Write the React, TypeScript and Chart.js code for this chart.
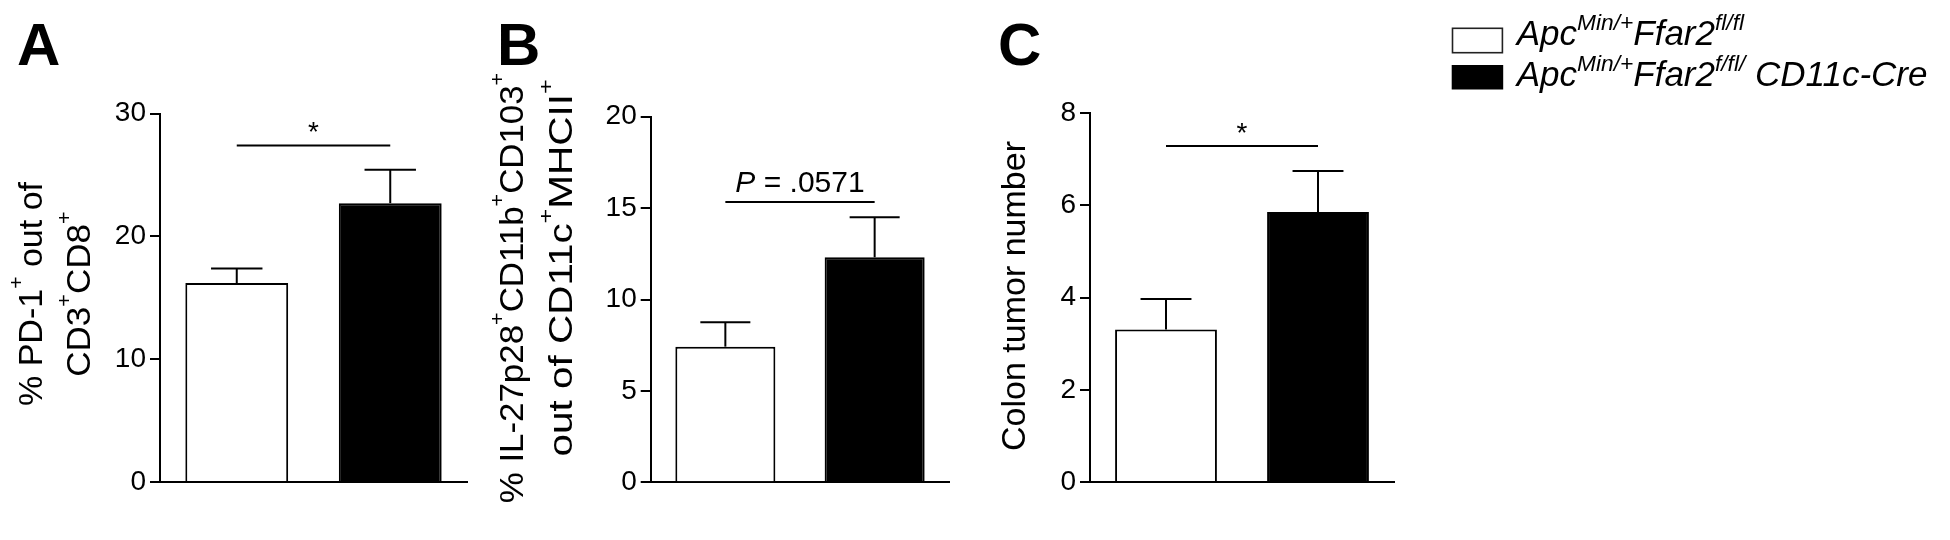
import React, { useEffect, useRef } from "react";
import { Chart, registerables } from "chart.js";

Chart.register(...registerables);

// ---------------- DATA ----------------
const groups = ["ApcMin/+ Ffar2fl/fl", "ApcMin/+ Ffar2f/fl/ CD11c-Cre"];

const panelAMeans = [16.2, 22.7];
const panelASem = [1.18, 2.72];
const panelATicks = [0, 10, 20, 30];
const panelASig = { y: 27.4, label: "*" };

const panelBMeans = [7.42, 12.31];
const panelBSem = [1.33, 2.19];
const panelBTicks = [0, 5, 10, 15, 20];
const panelBSig = { y: 15.33, label: "P = .0571" };

const panelCMeans = [3.31, 5.86];
const panelCSem = [0.66, 0.89];
const panelCTicks = [0, 2, 4, 6, 8];
const panelCSig = { y: 7.29, label: "*" };

const barColors = ["#ffffff", "#000000"];

// ---------------- STYLE / TEXT HELPERS ----------------
const FAMILY = "'Liberation Sans', Arial, Helvetica, sans-serif";

type Run = { t: string; sup?: boolean; it?: boolean };

function fontStr(size: number, italic = false, weight = "normal") {
  return `${italic ? "italic" : "normal"} ${weight} ${size}px ${FAMILY}`;
}

function drawRich(
  ctx: CanvasRenderingContext2D,
  runs: Run[],
  x: number,
  y: number,
  size: number,
  opts: {
    align?: "left" | "center";
    rotate?: boolean;
    stretch?: number;
    supScale?: number;
    supRise?: number;
    italic?: boolean;
    weight?: string;
  } = {}
) {
  const align = opts.align ?? "left";
  const stretch = opts.stretch ?? 1;
  const supScale = opts.supScale ?? 0.62;
  const supRise = opts.supRise ?? 0.5;
  const weight = opts.weight ?? "normal";
  const widths: number[] = [];
  let total = 0;
  runs.forEach((r) => {
    const s = r.sup ? size * supScale : size;
    ctx.font = fontStr(s, r.it ?? opts.italic ?? false, weight);
    const w = ctx.measureText(r.t).width;
    widths.push(w);
    total += w;
  });
  ctx.save();
  ctx.translate(x, y);
  if (opts.rotate) ctx.rotate(-Math.PI / 2);
  ctx.scale(stretch, 1);
  ctx.fillStyle = "#000";
  ctx.textBaseline = "alphabetic";
  ctx.textAlign = "left";
  let cx = align === "center" ? -total / 2 : 0;
  runs.forEach((r, i) => {
    const s = r.sup ? size * supScale : size;
    ctx.font = fontStr(s, r.it ?? opts.italic ?? false, weight);
    ctx.fillText(r.t, cx, r.sup ? -size * supRise : 0);
    cx += widths[i];
  });
  ctx.restore();
}

function line(ctx: CanvasRenderingContext2D, x1: number, y1: number, x2: number, y2: number, w = 2) {
  ctx.save();
  ctx.strokeStyle = "#000";
  ctx.lineWidth = w;
  ctx.beginPath();
  ctx.moveTo(x1, y1);
  ctx.lineTo(x2, y2);
  ctx.stroke();
  ctx.restore();
}

type TitleLine = { runs: Run[]; offset: number; centerY: number; stretch: number };

type PanelSpec = {
  id: string;
  letter: string;
  means: number[];
  sem: number[];
  ticks: number[];
  sig: { y: number; label: string };
  canvasLeft: number;
  canvasWidth: number;
  padding: { left: number; right: number; top: number; bottom: number };
  letterPos: { x: number; y: number };
  titleLines: TitleLine[];
  titleSize: number;
  sigGap: number;
  legend?: boolean;
};

const panels: PanelSpec[] = [
  {
    id: "A",
    letter: "A",
    means: panelAMeans,
    sem: panelASem,
    ticks: panelATicks,
    sig: panelASig,
    canvasLeft: 0,
    canvasWidth: 480,
    padding: { left: 100, right: 13, top: 113.5, bottom: 58 },
    letterPos: { x: 17, y: 65 },
    titleLines: [
      {
        runs: [{ t: "% PD-1" }, { t: "+", sup: true }, { t: " out of" }],
        offset: -118,
        centerY: 294,
        stretch: 1,
      },
      {
        runs: [{ t: "CD3" }, { t: "+", sup: true }, { t: "CD8" }, { t: "+", sup: true }],
        offset: -70,
        centerY: 294,
        stretch: 1.03,
      },
    ],
    titleSize: 34,
    sigGap: 4,
  },
  {
    id: "B",
    letter: "B",
    means: panelBMeans,
    sem: panelBSem,
    ticks: panelBTicks,
    sig: panelBSig,
    canvasLeft: 480,
    canvasWidth: 480,
    padding: { left: 110.7, right: 10.7, top: 116.7, bottom: 57.7 },
    letterPos: { x: 17, y: 65 },
    titleLines: [
      {
        runs: [
          { t: "% IL-27p28" },
          { t: "+", sup: true },
          { t: "CD11b" },
          { t: "+", sup: true },
          { t: "CD103" },
          { t: "+", sup: true },
        ],
        offset: -128,
        centerY: 288,
        stretch: 1.025,
      },
      {
        runs: [{ t: "out of CD11c" }, { t: "+", sup: true }, { t: "MHCII" }, { t: "+", sup: true }],
        offset: -79,
        centerY: 268,
        stretch: 1.19,
      },
    ],
    titleSize: 34,
    sigGap: 10,
  },
  {
    id: "C",
    letter: "C",
    means: panelCMeans,
    sem: panelCSem,
    ticks: panelCTicks,
    sig: panelCSig,
    canvasLeft: 960,
    canvasWidth: 990,
    padding: { left: 70, right: 556, top: 113.3, bottom: 58 },
    letterPos: { x: 38, y: 65 },
    titleLines: [{ runs: [{ t: "Colon tumor number" }], offset: -65, centerY: 296, stretch: 1 }],
    titleSize: 34,
    sigGap: 4,
    legend: true,
  },
];

const legendLines: Run[][] = [
  [{ t: "Apc" }, { t: "Min/+", sup: true }, { t: "Ffar2" }, { t: "fl/fl", sup: true }],
  [{ t: "Apc" }, { t: "Min/+", sup: true }, { t: "Ffar2" }, { t: "f/fl/", sup: true }, { t: " CD11c-Cre" }],
];

function makePlugin(p: PanelSpec) {
  return {
    id: "decor" + p.id,
    afterDraw(chart: any) {
      const ctx: CanvasRenderingContext2D = chart.ctx;
      const area = chart.chartArea;
      const ys = chart.scales.y;
      const meta = chart.getDatasetMeta(0);

      // error bars (upper only)
      meta.data.forEach((bar: any, i: number) => {
        const x = bar.x;
        const y0 = ys.getPixelForValue(p.means[i]);
        const y1 = ys.getPixelForValue(p.means[i] + p.sem[i]);
        const half = bar.width * 0.25;
        line(ctx, x, y0, x, y1, 2);
        line(ctx, x - half, y1, x + half, y1, 2);
      });

      // significance line + label
      const xa = meta.data[0].x;
      const xb = meta.data[1].x;
      const sy = ys.getPixelForValue(p.sig.y);
      line(ctx, xa, sy, xb, sy, 2);
      const mid = (xa + xb) / 2;
      if (p.sig.label === "*") {
        drawRich(ctx, [{ t: "*" }], mid, sy - p.sigGap, 28, { align: "center" });
      } else {
        const m = p.sig.label.match(/^(P)(.*)$/);
        const runs: Run[] = m ? [{ t: m[1], it: true }, { t: m[2] }] : [{ t: p.sig.label }];
        drawRich(ctx, runs, mid, sy - p.sigGap, 30, { align: "center" });
      }

      // panel letter
      drawRich(ctx, [{ t: p.letter }], p.letterPos.x, p.letterPos.y, 60, { weight: "bold" });

      // y-axis title (rich text, rotated)
      p.titleLines.forEach((tl) => {
        drawRich(ctx, tl.runs, area.left + tl.offset, tl.centerY, p.titleSize, {
          align: "center",
          rotate: true,
          stretch: tl.stretch,
          supScale: 0.62,
          supRise: 0.55,
        });
      });

      // legend
      if (p.legend) {
        const bx = 1451.7 - p.canvasLeft;
        const tx = 1516.7 - p.canvasLeft;
        ctx.save();
        ctx.fillStyle = barColors[0];
        ctx.fillRect(bx, 27.5, 51.5, 26);
        ctx.strokeStyle = "#222";
        ctx.lineWidth = 1.6;
        ctx.strokeRect(bx + 0.8, 27.5 + 0.8, 51.5 - 1.6, 26 - 1.6);
        ctx.fillStyle = barColors[1];
        ctx.fillRect(bx, 65, 51.5, 24.5);
        ctx.restore();
        const baselines = [45, 86];
        legendLines.forEach((runs, i) => {
          drawRich(ctx, runs, tx, baselines[i], 35, {
            italic: true,
            supScale: 0.65,
            supRise: 0.43,
          });
        });
      }
    },
  };
}

function Panel({ p }: { p: PanelSpec }) {
  const ref = useRef<HTMLCanvasElement | null>(null);
  useEffect(() => {
    if (!ref.current) return;
    const t = p.ticks;
    const chart = new Chart(ref.current, {
      type: "bar",
      data: {
        labels: groups,
        datasets: [
          {
            data: p.means,
            backgroundColor: barColors,
            borderColor: "#000",
            borderWidth: 2,
            barPercentage: 0.67,
            categoryPercentage: 1,
          },
        ],
      },
      options: {
        responsive: false,
        animation: false,
        devicePixelRatio: 1,
        layout: { padding: p.padding },
        plugins: { legend: { display: false }, tooltip: { enabled: false } },
        scales: {
          x: {
            ticks: { display: false },
            grid: { display: false, drawTicks: false },
            border: { display: true, color: "#000", width: 2 },
            afterFit: (s: any) => {
              s.height = 0;
            },
          },
          y: {
            min: t[0],
            max: t[t.length - 1],
            ticks: {
              stepSize: t[1] - t[0],
              color: "#000",
              padding: 4,
              font: { size: 28, family: FAMILY },
            },
            grid: {
              display: true,
              drawOnChartArea: false,
              drawTicks: true,
              tickLength: 10,
              color: "#000",
              lineWidth: 2,
            },
            border: { display: true, color: "#000", width: 2 },
            afterFit: (s: any) => {
              s.width = 60;
            },
          },
        },
      } as any,
      plugins: [makePlugin(p)],
    });
    return () => chart.destroy();
  }, [p]);
  return (
    <canvas
      ref={ref}
      width={p.canvasWidth}
      height={540}
      style={{
        position: "absolute",
        left: p.canvasLeft,
        top: 0,
        width: p.canvasWidth,
        height: 540,
        display: "block",
      }}
    />
  );
}

export default function App() {
  return (
    <div
      style={{
        position: "absolute",
        left: 0,
        top: 0,
        width: 1950,
        height: 540,
        background: "#ffffff",
        overflow: "hidden",
      }}
    >
      {panels.map((p) => (
        <Panel key={p.id} p={p} />
      ))}
    </div>
  );
}
